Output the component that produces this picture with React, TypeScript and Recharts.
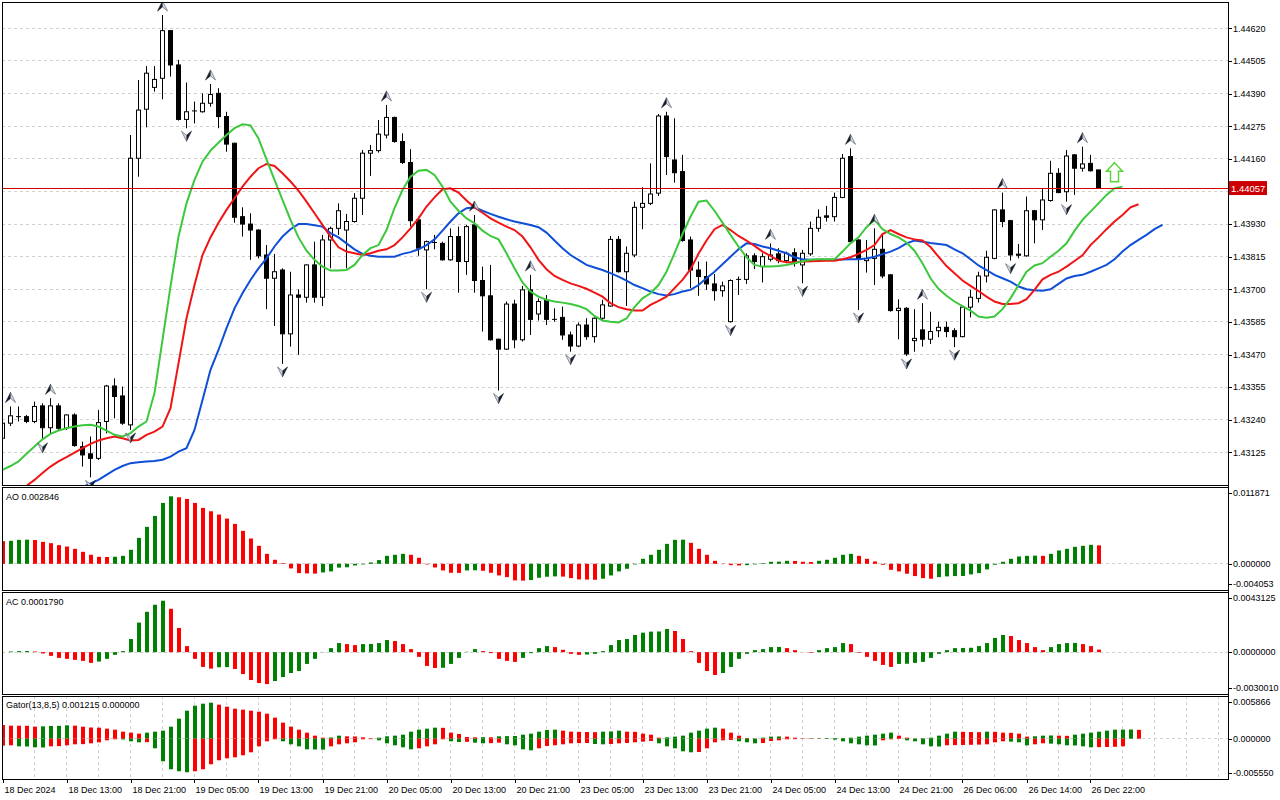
import React from "react";
import {
  Bar,
  CartesianGrid,
  Cell,
  ComposedChart,
  Line,
  ReferenceLine,
  Scatter,
  XAxis,
  YAxis,
} from "recharts";

// prices are kept in points (1 point = 0.00001)
const opens = [
  143175, 143228, 143251, 143251, 143234, 143289, 143212, 143289, 143210, 143257,
  143145, 143120, 143104, 143234, 143359, 143324, 143222, 144162, 144335, 144412,
  144444, 144612, 144491, 144299, 144329, 144326, 144356, 144391, 144309, 144215,
  143956, 143930, 143909, 143821, 143739, 143768, 143543, 143680, 143672, 143786,
  143672, 143874, 143915, 143909, 143939, 144021, 144180, 144189, 144244, 144306,
  144221, 144147, 143945, 143839, 143865, 143862, 143804, 143886, 143798, 143927,
  143731, 143677, 143524, 143489, 143648, 143522, 143698, 143613, 143663, 143594,
  143601, 143539, 143500, 143574, 143533, 143598, 143641, 143876, 143762, 143821,
  143989, 144003, 144039, 144311, 144156, 144115, 143874, 143768, 143745, 143719,
  143695, 143586, 143735, 143735, 143818, 143780, 143806, 143825, 143801, 143829,
  143786, 143825, 143915, 143959, 143956, 144024, 144168, 143874, 143801, 143809,
  143841, 143751, 143625, 143633, 143519, 143557, 143524, 143554, 143566, 143554,
  143533, 143637, 143668, 143747, 143809, 143980, 143942, 143824, 143818, 143977,
  143945, 144013, 144109, 144044, 144174, 144127, 144144, 144121,
];
const highs = [
  143237, 143287, 143287, 143257, 143304, 143298, 143316, 143298, 143259, 143263,
  143163, 143181, 143275, 143363, 143386, 143357, 144244, 144438, 144487, 144487,
  144667, 144614, 144509, 144429, 144362, 144391, 144424, 144409, 144326, 144217,
  143989, 143968, 143912, 143856, 143825, 143774, 143762, 143700, 143788, 143868,
  143892, 143921, 144003, 143966, 144039, 144191, 144209, 144297, 144350, 144309,
  144250, 144194, 143956, 143872, 143892, 143868, 143915, 143921, 143927, 143962,
  143780, 143786, 143526, 143657, 143663, 143712, 143751, 143668, 143680, 143633,
  143639, 143551, 143583, 143598, 143601, 143663, 143888, 143888, 143851, 144009,
  144060, 144144, 144318, 144326, 144303, 144174, 143886, 143798, 143798, 143754,
  143727, 143735, 143745, 143827, 143827, 143827, 143862, 143845, 143833, 143845,
  143839, 143939, 143982, 143994, 144041, 144177, 144197, 143876, 143874, 143915,
  143892, 143754, 143665, 143637, 143630, 143651, 143621, 143586, 143586, 143563,
  143641, 143698, 143762, 143836, 143982, 144041, 143945, 143860, 144027, 143980,
  144056, 144153, 144127, 144191, 144177, 144203, 144174, 144121,
];
const lows = [
  143171, 143218, 143234, 143228, 143228, 143169, 143187, 143204, 143204, 143145,
  143075, 143037, 143098, 143192, 143245, 143222, 143204, 144097, 144271, 144397,
  144370, 144450, 144295, 144268, 144285, 144323, 144344, 144268, 144185, 143935,
  143886, 143804, 143809, 143630, 143571, 143437, 143498, 143469, 143653, 143653,
  143641, 143774, 143892, 143774, 143935, 143962, 144100, 144182, 144232, 144217,
  144142, 143921, 143818, 143700, 143841, 143801, 143801, 143688, 143751, 143688,
  143551, 143519, 143343, 143486, 143492, 143516, 143539, 143590, 143574, 143586,
  143522, 143480, 143496, 143522, 143512, 143592, 143639, 143759, 143641, 143813,
  143912, 143997, 144029, 144103, 144076, 143868, 143704, 143677, 143698, 143660,
  143674, 143583, 143680, 143719, 143771, 143724, 143798, 143792, 143792, 143780,
  143721, 143818, 143903, 143939, 143939, 144021, 143862, 143627, 143759, 143715,
  143739, 143621, 143524, 143465, 143480, 143498, 143507, 143531, 143531, 143496,
  143531, 143601, 143653, 143724, 143806, 143919, 143801, 143809, 143815, 143862,
  143909, 144009, 144039, 144009, 144033, 144115, 144115, 144056,
];
const closes = [
  143228, 143254, 143249, 143234, 143287, 143212, 143289, 143210, 143257, 143149,
  143116, 143104, 143230, 143359, 143322, 143228, 144162, 144332, 144462, 144440,
  144612, 144491, 144299, 144326, 144328, 144356, 144387, 144309, 144212, 143954,
  143930, 143909, 143818, 143739, 143762, 143543, 143680, 143672, 143786, 143672,
  143874, 143915, 143977, 143939, 144021, 144180, 144189, 144247, 144306, 144221,
  144147, 143942, 143845, 143868, 143863, 143804, 143886, 143798, 143921, 143731,
  143677, 143522, 143489, 143648, 143522, 143698, 143594, 143657, 143594, 143592,
  143539, 143500, 143574, 143533, 143598, 143645, 143876, 143762, 143827, 143989,
  144003, 144036, 144311, 144168, 144111, 143872, 143768, 143745, 143719, 143695,
  143712, 143731, 143734, 143818, 143798, 143815, 143821, 143801, 143827, 143792,
  143827, 143915, 143954, 143954, 144024, 144162, 143868, 143809, 143809, 143841,
  143747, 143625, 143633, 143472, 143527, 143524, 143551, 143566, 143551, 143533,
  143637, 143672, 143747, 143813, 143980, 143939, 143821, 143820, 143977, 143945,
  144015, 144109, 144041, 144170, 144127, 144142, 144118, 144057,
];

// Alligator (already shifted forward: jaw 8, teeth 5, lips 3)
const jaw = [
  null, null, null, null, null, null, null, null,
  142958, 142983, 143002, 143016, 143028, 143046, 143063, 143077, 143087, 143090,
  143093, 143095, 143099, 143110, 143128, 143140, 143204, 143310, 143416, 143486,
  143563, 143633, 143686, 143733, 143774, 143809, 143851, 143886, 143912, 143930,
  143930, 143926, 143921, 143898, 143883, 143862, 143841, 143825, 143818, 143815,
  143815, 143815, 143825, 143831, 143841, 143856, 143876, 143907, 143939, 143968,
  143986, 143989, 143977, 143966, 143956, 143947, 143939, 143933, 143927, 143919,
  143900, 143872, 143845, 143821, 143804, 143786, 143777, 143768, 143757, 143745,
  143731, 143715, 143704, 143692, 143683, 143678, 143683, 143692, 143698, 143715,
  143739, 143762, 143788, 143815, 143841, 143862, 143860, 143851, 143845, 143836,
  143827, 143813, 143806, 143804, 143804, 143804, 143804, 143805, 143806, 143806,
  143809, 143815, 143824, 143833, 143845, 143862, 143872, 143868, 143863, 143860,
  143856, 143841, 143827, 143806, 143784, 143768, 143751, 143739, 143727, 143710,
  143700, 143697, 143695, 143700, 143719, 143738, 143747, 143751, 143762, 143774,
  143786, 143806, 143833, 143856, 143874, 143892, 143912, 143927,
];
const teeth = [
  142946, 142967, 142987, 143007, 143028, 143052, 143075, 143093, 143108, 143124,
  143140, 143155, 143167, 143175, 143181, 143175, 143167, 143169, 143187, 143198,
  143216, 143281, 143439, 143598, 143715, 143821, 143883, 143935, 143980, 144021,
  144062, 144097, 144127, 144142, 144135, 144109, 144080, 144048, 144009, 143968,
  143927, 143886, 143848, 143833, 143827, 143821, 143827, 143836, 143841, 143856,
  143883, 143915, 143950, 143992, 144024, 144053, 144056, 144041, 144013, 143989,
  143970, 143950, 143935, 143921, 143909, 143886, 143848, 143804, 143771, 143747,
  143733, 143721, 143712, 143702, 143688, 143674, 143651, 143637, 143630, 143625,
  143625, 143645, 143659, 143674, 143704, 143733, 143771, 143825, 143872, 143912,
  143927, 143909, 143888, 143872, 143853, 143833, 143818, 143801, 143795, 143795,
  143798, 143799, 143800, 143801, 143801, 143806, 143813, 143825, 143839, 143856,
  143895, 143909, 143895, 143883, 143876, 143872, 143849, 143815, 143782, 143757,
  143731, 143712, 143694, 143674, 143657, 143648, 143648, 143651, 143665, 143698,
  143735, 143751, 143762, 143780, 143800, 143820, 143856, 143883, 143912, 143939,
  143962, 143989, 144000,
];
const lips = [
  143063, 143077, 143093, 143120, 143146, 143171, 143190, 143202, 143210, 143216,
  143221, 143222, 143216, 143202, 143187, 143181, 143193, 143216, 143234, 143334,
  143522, 143710, 143886, 144003, 144086, 144150, 144189, 144217, 144244, 144268,
  144282, 144278, 144232, 144158, 144086, 144015, 143945, 143883, 143836, 143804,
  143780, 143766, 143766, 143768, 143786, 143821, 143845, 143856, 143909, 143986,
  144050, 144097, 144118, 144121, 144103, 144062, 144009, 143977, 143950, 143933,
  143907, 143888, 143876, 143827, 143774, 143724, 143692, 143674, 143663, 143657,
  143653, 143648, 143641, 143630, 143606, 143590, 143586, 143583, 143597, 143637,
  143668, 143686, 143715, 143762, 143827, 143895, 143956, 144009, 144013, 143977,
  143935, 143892, 143851, 143813, 143786, 143780, 143780, 143782, 143786, 143792,
  143799, 143804, 143806, 143806, 143806, 143833, 143862, 143883, 143919, 143945,
  143912, 143895, 143883, 143865, 143836, 143792, 143739, 143702, 143677, 143657,
  143641, 143625, 143604, 143600, 143604, 143630, 143668, 143715, 143762, 143784,
  143792, 143815, 143836, 143862, 143906, 143945, 143974, 144003, 144033, 144056,
  144062,
];

const fractalUpBars = [1, 6, 20, 26, 48, 59, 66, 83, 96, 106, 109, 115, 125, 135];
const fractalDownBars = [5, 11, 16, 23, 35, 53, 62, 71, 91, 100, 107, 113, 119, 126, 133];
const signalBar = 139;
const signalLevel = 144113;
const bidPrice = 144057;

const priceTicks = [
  144620, 144505, 144390, 144275, 144160, 144045, 143930, 143815, 143700, 143585,
  143470, 143355, 143240, 143125,
];

const ao = [
  0.0035, 0.00355, 0.0037, 0.00373, 0.00367, 0.00339, 0.00319, 0.00288, 0.00267, 0.00231,
  0.00185, 0.00139, 0.00108, 0.00105, 0.00109, 0.00123, 0.00216, 0.00401, 0.00571, 0.0074,
  0.00941, 0.01043, 0.01028, 0.01002, 0.00941, 0.00864, 0.00812, 0.00761, 0.00699, 0.00617,
  0.00509, 0.00391, 0.00278, 0.00154, 0.00062, 0.0001, -0.00072, -0.00144, -0.00149, -0.00152,
  -0.00134, -0.00118, -0.00059, -0.00054, -0.00026, -0.0001, 0.00021, 0.00057, 0.00123, 0.00139,
  0.00154, 0.00139, 0.00093, -0.0001, -0.00057, -0.00103, -0.00139, -0.00141, -0.00103, -0.001,
  -0.00108, -0.00139, -0.0018, -0.00206, -0.00257, -0.0026, -0.00252, -0.00216, -0.002, -0.00195,
  -0.00198, -0.00221, -0.00242, -0.00244, -0.00247, -0.00231, -0.0018, -0.00118, -0.00077, -0.0001,
  0.00077, 0.00139, 0.00216, 0.00308, 0.0037, 0.00373, 0.00324, 0.00231, 0.00139, 0.00046,
  -0.00005, -0.00021, -0.00026, -0.00021, -0.0001, 0.0001, 0.00031, 0.00033, 0.00046, 0.00044,
  0.00031, 0.00028, 0.00046, 0.00062, 0.00093, 0.00139, 0.00154, 0.00123, 0.00077, 0.00036,
  -0.00015, -0.00093, -0.00118, -0.00154, -0.0019, -0.00221, -0.00231, -0.00206, -0.00195, -0.0019,
  -0.00188, -0.00164, -0.00144, -0.00087, -0.00015, 0.00031, 0.00077, 0.00113, 0.00123, 0.00126,
  0.00123, 0.00154, 0.00206, 0.00231, 0.00262, 0.00278, 0.00293, 0.002846,
];

const ac = [
  0.0000072, 0.0000482, 0.0000723, 0.0000771, 0.0000482, -0.0000964, -0.0002651, -0.0004097, -0.000482, -0.0005543,
  -0.0006266, -0.0007712, -0.0006748, -0.000482, -0.0001928, 0.0000723, 0.0009399, 0.0021208, 0.002892, 0.0033981,
  0.0036873, 0.0031089, 0.0017352, 0.0004338, -0.000482, -0.0010604, -0.0011809, -0.0010845, -0.0010725, -0.001205,
  -0.0015665, -0.0020003, -0.0022172, -0.0022895, -0.0020726, -0.0017834, -0.0014942, -0.0013496, -0.0008435, -0.000482,
  0.0000121, 0.0002892, 0.0006507, 0.0005784, 0.0005061, 0.0005784, 0.0005905, 0.0006507, 0.0008676, 0.0007953,
  0.0005784, 0.0002169, -0.0003374, -0.0009881, -0.0011327, -0.0011207, -0.0008435, -0.0004097, 0.0000241, 0.0002169,
  0.0000723, -0.0000723, -0.000482, -0.0006266, -0.0006989, -0.0004097, -0.0000723, 0.0002892, 0.0004338, 0.0003615,
  0.0001687, -0.0001205, -0.0001928, -0.0001687, -0.0001205, 0.0000723, 0.0005061, 0.0008676, 0.0009399, 0.0012291,
  0.0013978, 0.0014701, 0.0014822, 0.0016629, 0.0015183, 0.0009399, 0.0000723, -0.0007712, -0.0013496, -0.0016388,
  -0.0014942, -0.0010604, -0.000482, -0.0001205, 0.0001446, 0.0002169, 0.0003615, 0.0003736, 0.0002892, 0.0001446,
  0.0000072, -0.0000482, 0.0001446, 0.0002892, 0.0003615, 0.0006507, 0.0005784, -0.0000482, -0.0003374, -0.0006266,
  -0.0009158, -0.0010604, -0.0008435, -0.0008315, -0.0007712, -0.0006989, -0.0004097, -0.0001205, 0.0001446, 0.0002892,
  0.0003013, 0.0003133, 0.0004338, 0.0006507, 0.0010122, 0.0012291, 0.0011568, 0.0008676, 0.0006507, 0.0003615,
  0.0001446, 0.0003615, 0.0005784, 0.0006507, 0.0006628, 0.0005784, 0.0004338, 0.000179,
];

const gatorUp = [
  0.001878, 0.001786, 0.001777, 0.001768, 0.001649, 0.001695, 0.00174, 0.001763, 0.001832, 0.001786,
  0.001649, 0.001534, 0.001511, 0.001374, 0.001237, 0.000962, 0.000824, 0.000687, 0.000824, 0.000962,
  0.001099, 0.001649, 0.002748, 0.003847, 0.004534, 0.004809, 0.004946, 0.004672, 0.004397, 0.004122,
  0.003985, 0.003847, 0.00371, 0.003435, 0.002885, 0.002198, 0.001649, 0.001237, 0.000824, 0.000412,
  0.000137, 0.00016, 0.000412, 0.000321, 0.000298, 0.000183, 0.000046, 0.000137, 0.000321, 0.000412,
  0.00055, 0.000962, 0.001237, 0.001374, 0.001511, 0.001489, 0.000824, 0.000641, 0.000229, 0.000183,
  0.000206, 0.000183, 0.000321, 0.000344, 0.000366, 0.00055, 0.000687, 0.000962, 0.001191, 0.001237,
  0.001099, 0.000962, 0.000939, 0.000916, 0.000893, 0.000962, 0.000985, 0.001099, 0.000962, 0.000939,
  0.000687, 0.00055, 0.000137, 0.000183, 0.000275, 0.000412, 0.000824, 0.001099, 0.001374, 0.001511,
  0.001374, 0.000824, 0.000412, 0.000092, 0.000023, 0.000137, 0.000275, 0.000298, 0.000275, 0.000137,
  0.000023, 0.000046, 0.000055, 0.000064, 0.000073, 0.000092, 0.000137, 0.000275, 0.000412, 0.00055,
  0.000687, 0.000824, 0.000412, 0.000137, 0.000023, 0.000046, 0.000137, 0.000412, 0.000687, 0.000962,
  0.000939, 0.000916, 0.000893, 0.000962, 0.000939, 0.000824, 0.000802, 0.000687, 0.000275, 0.000321,
  0.000412, 0.000435, 0.000412, 0.000389, 0.00055, 0.000687, 0.000824, 0.000962, 0.001099, 0.001237,
  0.001246, 0.001255, 0.001215,
];
const gatorDown = [
  -0.000962, -0.000916, -0.001053, -0.001076, -0.001191, -0.001214, -0.001053, -0.00103, -0.000916, -0.000779,
  -0.000756, -0.000641, -0.000504, -0.000229, -0.000092, -0.000115, -0.000366, -0.000504, -0.000481, -0.001328,
  -0.003114, -0.004214, -0.004488, -0.004626, -0.004488, -0.004214, -0.003527, -0.002977, -0.002702, -0.002565,
  -0.00229, -0.001878, -0.001053, -0.000366, -0.000092, -0.000366, -0.000779, -0.001053, -0.001466, -0.001489,
  -0.001511, -0.001053, -0.000779, -0.000641, -0.000504, -0.000092, -0.000069, -0.000229, -0.000641, -0.000916,
  -0.001191, -0.001466, -0.001328, -0.001053, -0.000779, -0.000092, -0.000366, -0.000458, -0.000435, -0.00055,
  -0.000641, -0.000618, -0.00055, -0.000779, -0.000916, -0.001466, -0.001603, -0.001328, -0.001008, -0.000916,
  -0.000779, -0.000641, -0.000618, -0.000595, -0.000733, -0.000779, -0.000733, -0.000641, -0.000595, -0.000504,
  -0.000412, -0.000321, -0.000641, -0.001053, -0.001328, -0.00174, -0.001878, -0.001832, -0.001328, -0.000504,
  -0.000229, -0.000183, -0.000366, -0.000504, -0.000641, -0.000595, -0.000321, -0.000229, -0.000092, -0.000069,
  -0.000046, -0.000037, -0.000027, -0.000046, -0.000137, -0.000366, -0.000641, -0.000779, -0.000916, -0.000939,
  -0.000229, -0.000092, -0.000046, -0.000229, -0.000366, -0.000779, -0.001053, -0.001076, -0.000916, -0.000893,
  -0.00087, -0.000847, -0.000824, -0.000779, -0.000504, -0.000366, -0.000412, -0.000504, -0.000916, -0.000779,
  -0.000641, -0.000687, -0.000779, -0.000916, -0.000939, -0.001053, -0.001191, -0.001168, -0.001145, -0.001122,
  -0.001053,
];

const timeLabels = [
  "18 Dec 2024", "18 Dec 13:00", "18 Dec 21:00", "19 Dec 05:00", "19 Dec 13:00",
  "19 Dec 21:00", "20 Dec 05:00", "20 Dec 13:00", "20 Dec 21:00", "23 Dec 05:00",
  "23 Dec 13:00", "23 Dec 21:00", "24 Dec 05:00", "24 Dec 13:00", "24 Dec 21:00",
  "26 Dec 06:00", "26 Dec 14:00", "26 Dec 22:00",
];

const FONT = "'Liberation Sans', Arial, sans-serif";
const UP = "#008000";
const DOWN = "#ff0000";
const GRID = "#d0d0d0";
const X_DOMAIN: [number, number] = [-0.0625, 153.1875];
const gridTicks = Array.from({ length: 38 }, (_, k) => (k + 1) * 4);
const labelTicks = timeLabels.map((_, k) => k * 8);

const candles = opens.map((o, i) => ({
  i,
  o,
  h: highs[i],
  l: lows[i],
  c: closes[i],
  range: [lows[i], highs[i]],
}));
const lineData = jaw.map((j, i) => ({
  i,
  jaw: j,
  teeth: i < teeth.length ? teeth[i] : null,
  lips: i < lips.length ? lips[i] : null,
}));
const fracUp = fractalUpBars.map((i) => ({ i, y: highs[i] }));
const fracDown = fractalDownBars.map((i) => ({ i, y: lows[i] }));
const signal = [{ i: signalBar, y: signalLevel }];

const rising = (arr: number[], i: number, first: boolean) =>
  i === 0 ? first : Math.abs(arr[i]) > Math.abs(arr[i - 1]);
const risingSigned = (arr: number[], i: number, first: boolean) =>
  i === 0 ? first : arr[i] > arr[i - 1];

const aoData = ao.map((v, i) => ({ i, v }));
const acData = ac.map((v, i) => ({ i, v }));
const gatorData = gatorUp.map((u, i) => ({
  i,
  up: u,
  down: i < gatorDown.length ? gatorDown[i] : 0,
}));

function Candle(props: any) {
  const { x, y, width, height, payload } = props;
  if (!payload || payload.o == null) return <g />;
  const { o, h, l, c } = payload;
  const cx = Math.round(x + width / 2 - 0.5) + 0.5;
  const top = Math.min(y, y + height);
  const hp = Math.abs(height);
  const span = h - l;
  const py = (v: number) => (span === 0 ? top : top + ((h - v) / span) * hp);
  const bTop = py(Math.max(o, c));
  const bBot = py(Math.min(o, c));
  const bull = c >= o;
  return (
    <g>
      <line x1={cx} x2={cx} y1={py(h)} y2={py(l)} stroke="#000" strokeWidth={1} />
      {bBot - bTop < 1 ? (
        <line x1={cx - 2.5} x2={cx + 2.5} y1={bTop} y2={bTop} stroke="#000" strokeWidth={1} />
      ) : (
        <rect
          x={cx - 2}
          y={bTop}
          width={4}
          height={bBot - bTop}
          fill={bull ? "#fff" : "#000"}
          stroke="#000"
          strokeWidth={1}
        />
      )}
    </g>
  );
}

function FractalUp(props: any) {
  const { cx, cy } = props;
  const t = cy - 14;
  return (
    <g>
      <polygon points={`${cx},${t} ${cx},${t + 6} ${cx - 5},${t + 10}`} fill="#151c2c" stroke="#151c2c" strokeWidth={0.6} />
      <polygon points={`${cx},${t} ${cx + 5},${t + 10} ${cx},${t + 6}`} fill="#d4d8e0" stroke="#4a5060" strokeWidth={0.6} />
    </g>
  );
}

function FractalDown(props: any) {
  const { cx, cy } = props;
  const b = cy + 13;
  return (
    <g>
      <polygon points={`${cx},${b} ${cx},${b - 6} ${cx + 5},${b - 10}`} fill="#151c2c" stroke="#151c2c" strokeWidth={0.6} />
      <polygon points={`${cx},${b} ${cx - 5},${b - 10} ${cx},${b - 6}`} fill="#d4d8e0" stroke="#4a5060" strokeWidth={0.6} />
    </g>
  );
}

function SignalArrow(props: any) {
  const { cx, cy } = props;
  const pts = [
    [cx, cy - 9.5],
    [cx + 8, cy - 1],
    [cx + 4, cy - 1],
    [cx + 4, cy + 9.5],
    [cx - 4, cy + 9.5],
    [cx - 4, cy - 1],
    [cx - 8, cy - 1],
  ]
    .map((p) => p.join(","))
    .join(" ");
  return <polygon points={pts} fill="#ffffff" stroke="#5cd43a" strokeWidth={1.5} />;
}

function HistBar(props: any) {
  const { x, y, width, height, fill } = props;
  if (height == null || isNaN(height)) return <g />;
  const top = Math.min(y, y + height);
  const cx = Math.round(x + width / 2);
  return <rect x={cx - 2} y={top} width={4} height={Math.abs(height)} fill={fill} />;
}

const PriceTag = (props: any) => {
  const vb = props.viewBox || {};
  const x = (vb.x || 0) + (vb.width || 0) + 1;
  const y = vb.y || 0;
  return (
    <g>
      <rect x={x} y={y - 7} width={38} height={14} fill="#cc0000" />
      <text x={x + 2} y={y + 3.5} fontSize={9.5} fontFamily={FONT} fill="#fff">
        {(bidPrice / 100000).toFixed(5)}
      </text>
    </g>
  );
};

const makeYTick =
  (fmt: (v: number) => string, top?: number, bottom?: number, skip?: number) =>
  (props: any) => {
    const { x, y, payload } = props;
    if (skip != null && payload.value === skip) return <g />;
    let ty = y;
    if (top != null && payload.value === top) ty = y + 6;
    if (bottom != null && payload.value === bottom) ty = y - 6;
    const ly = Math.round(ty) + 0.5;
    return (
      <g>
        <line x1={x} x2={x + 4} y1={ly} y2={ly} stroke="#000" />
        <text x={x + 5} y={ty + 3.3} fontSize={9} fontFamily={FONT} fill="#000">
          {fmt(payload.value)}
        </text>
      </g>
    );
  };

const TimeTick = (props: any) => {
  const { x, y, payload } = props;
  const label = timeLabels[Math.round(payload.value / 8)];
  const px = Math.round(x) + 0.5;
  return (
    <g>
      <line x1={px} x2={px} y1={y} y2={y + 4} stroke="#000" />
      <text x={px + 1} y={y + 13.5} fontSize={9} fontFamily={FONT} fill="#000">
        {label}
      </text>
    </g>
  );
};

const frame = (top: number, height: number): React.CSSProperties => ({
  position: "absolute",
  left: 2,
  top,
  width: 1227,
  height,
  border: "1px solid #000",
  boxSizing: "border-box",
  pointerEvents: "none",
});

const title = (top: number): React.CSSProperties => ({
  position: "absolute",
  left: 6,
  top,
  fontFamily: FONT,
  fontSize: 9,
  lineHeight: "10px",
  color: "#000",
  whiteSpace: "nowrap",
});

const hiddenX = (
  <XAxis
    type="number"
    dataKey="i"
    domain={X_DOMAIN}
    allowDataOverflow
    ticks={gridTicks}
    height={0}
    tick={false}
    axisLine={false}
    tickLine={false}
  />
);

export default function App() {
  return (
    <div
      style={{
        position: "absolute",
        left: 0,
        top: 0,
        width: 1280,
        height: 800,
        background: "#fff",
        overflow: "hidden",
      }}
    >
      {/* price panel */}
      <div style={{ position: "absolute", left: 0, top: 0 }}>
        <ComposedChart width={1280} height={486} data={candles} margin={{ top: 2, right: 0, bottom: 1, left: 2 }}>
          <CartesianGrid
            stroke={GRID}
            strokeDasharray="3 3"
            shapeRendering="crispEdges"
            horizontalValues={priceTicks}
            verticalValues={gridTicks}
          />
          {hiddenX}
          <YAxis
            orientation="right"
            width={52}
            domain={[143010, 144713]}
            allowDataOverflow
            ticks={priceTicks}
            interval={0}
            tickSize={0}
            tickMargin={0}
            axisLine={false}
            tick={makeYTick((v) => (v / 100000).toFixed(5), undefined, undefined, 144045)}
          />
          <Bar dataKey="range" barSize={5} shape={Candle} isAnimationActive={false} />
          <Line data={lineData} dataKey="jaw" stroke="#0f4fd8" strokeWidth={2} dot={false} isAnimationActive={false} />
          <Line data={lineData} dataKey="teeth" stroke="#f01414" strokeWidth={2} dot={false} isAnimationActive={false} />
          <Line data={lineData} dataKey="lips" stroke="#3cc83c" strokeWidth={2} dot={false} isAnimationActive={false} />
          <ReferenceLine
            y={bidPrice}
            stroke="#d40000"
            strokeWidth={1}
            shapeRendering="crispEdges"
            label={PriceTag}
          />
          <Scatter data={fracUp} dataKey="y" shape={FractalUp} isAnimationActive={false} />
          <Scatter data={fracDown} dataKey="y" shape={FractalDown} isAnimationActive={false} />
          <Scatter data={signal} dataKey="y" shape={SignalArrow} isAnimationActive={false} />
        </ComposedChart>
      </div>

      {/* AO */}
      <div style={{ position: "absolute", left: 0, top: 487 }}>
        <ComposedChart width={1280} height={103} data={aoData} margin={{ top: 0, right: 0, bottom: 0, left: 2 }}>
          <CartesianGrid
            stroke={GRID}
            strokeDasharray="3 3"
            shapeRendering="crispEdges"
            horizontalValues={[0]}
            verticalValues={gridTicks}
          />
          {hiddenX}
          <YAxis
            orientation="right"
            width={52}
            domain={[-0.004053, 0.011871]}
            allowDataOverflow
            ticks={[0.011871, 0, -0.004053]}
            interval={0}
            tickSize={0}
            tickMargin={0}
            axisLine={false}
            tick={makeYTick((v) => v.toFixed(6), 0.011871, -0.004053)}
          />
          <Bar dataKey="v" barSize={4} shape={HistBar} isAnimationActive={false}>
            {ao.map((_, i) => (
              <Cell key={i} fill={risingSigned(ao, i, false) ? UP : DOWN} />
            ))}
          </Bar>
        </ComposedChart>
      </div>

      {/* AC */}
      <div style={{ position: "absolute", left: 0, top: 592 }}>
        <ComposedChart width={1280} height={102} data={acData} margin={{ top: 0, right: 0, bottom: 0, left: 2 }}>
          <CartesianGrid
            stroke={GRID}
            strokeDasharray="3 3"
            shapeRendering="crispEdges"
            horizontalValues={[0]}
            verticalValues={gridTicks}
          />
          {hiddenX}
          <YAxis
            orientation="right"
            width={52}
            domain={[-0.003001, 0.0043125]}
            allowDataOverflow
            ticks={[0.0043125, 0, -0.003001]}
            interval={0}
            tickSize={0}
            tickMargin={0}
            axisLine={false}
            tick={makeYTick((v) => v.toFixed(7), 0.0043125, -0.003001)}
          />
          <Bar dataKey="v" barSize={4} shape={HistBar} isAnimationActive={false}>
            {ac.map((_, i) => (
              <Cell key={i} fill={risingSigned(ac, i, true) ? UP : DOWN} />
            ))}
          </Bar>
        </ComposedChart>
      </div>

      {/* Gator */}
      <div style={{ position: "absolute", left: 0, top: 696 }}>
        <ComposedChart
          width={1280}
          height={104}
          data={gatorData}
          stackOffset="sign"
          margin={{ top: 0, right: 0, bottom: 0, left: 2 }}
        >
          <CartesianGrid
            stroke={GRID}
            strokeDasharray="3 3"
            shapeRendering="crispEdges"
            horizontalValues={[0]}
            verticalValues={gridTicks}
          />
          <XAxis
            type="number"
            dataKey="i"
            domain={X_DOMAIN}
            allowDataOverflow
            ticks={labelTicks}
            height={21}
            tickSize={0}
            tickMargin={0}
            axisLine={false}
            tick={TimeTick}
            interval={0}
          />
          <YAxis
            orientation="right"
            width={52}
            domain={[-0.00555, 0.005866]}
            allowDataOverflow
            ticks={[0.005866, 0, -0.00555]}
            interval={0}
            tickSize={0}
            tickMargin={0}
            axisLine={false}
            tick={makeYTick((v) => v.toFixed(6), 0.005866, -0.00555)}
          />
          <Bar dataKey="up" stackId="g" barSize={4} shape={HistBar} isAnimationActive={false}>
            {gatorUp.map((_, i) => (
              <Cell key={i} fill={rising(gatorUp, i, false) ? UP : DOWN} />
            ))}
          </Bar>
          <Bar dataKey="down" stackId="g" barSize={4} shape={HistBar} isAnimationActive={false}>
            {gatorData.map((_, i) => (
              <Cell key={i} fill={i < gatorDown.length && rising(gatorDown, i, false) ? UP : DOWN} />
            ))}
          </Bar>
        </ComposedChart>
      </div>

      {/* panel frames and right axis line */}
      <div style={frame(2, 484)} />
      <div style={frame(487, 104)} />
      <div style={frame(592, 103)} />
      <div style={frame(696, 84)} />
      <div style={{ position: "absolute", left: 1228, top: 2, width: 1, height: 778, background: "#000" }} />

      <div style={title(492)}>AO 0.002846</div>
      <div style={title(597)}>AC 0.0001790</div>
      <div style={title(700)}>Gator(13,8,5) 0.001215 0.000000</div>
    </div>
  );
}
